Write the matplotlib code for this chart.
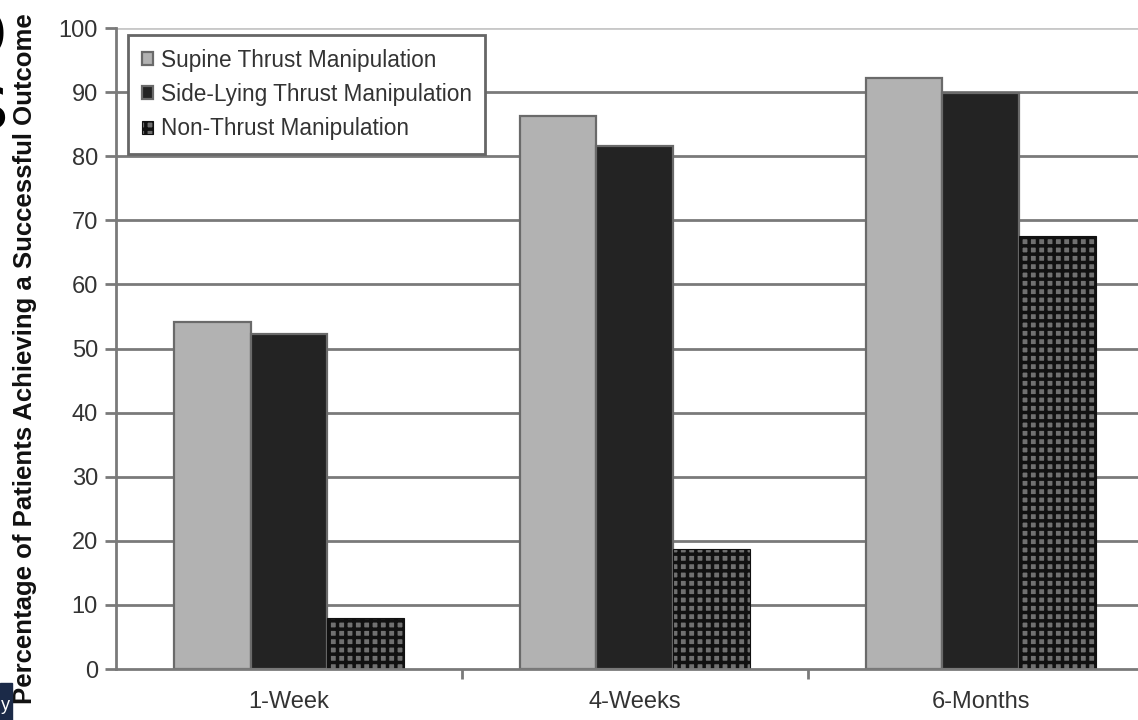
import matplotlib
matplotlib.use('Agg')
import numpy as np
from matplotlib import pyplot as plt
from matplotlib.patches import Rectangle

# values
categories = ['1-Week', '4-Weeks', '6-Months']
supine = [54.2, 86.3, 92.2]
side_lying = [52.3, 81.6, 89.9]
non_thrust = [7.9, 18.8, 67.6]
series_names = ['Supine Thrust Manipulation', 'Side-Lying Thrust Manipulation', 'Non-Thrust Manipulation']
y_ticks = list(range(0, 101, 10))
y_label = 'Percentage of Patients Achieving a Successful Outcome'

plt.rcParams['font.family'] = ['Liberation Sans', 'DejaVu Sans']
plt.rcParams['hatch.linewidth'] = 2.5

fig = plt.figure(figsize=(11.38, 7.2), dpi=100)
ax = fig.add_axes([0.1019, 0.0708, 0.912, 0.8903])

x = np.arange(len(categories))
width = 0.222
gridColor = '#7a7a7a'

for yv in y_ticks[1:]:
    ax.axhline(yv, color=gridColor if yv < 100 else '#c8c8c8', lw=2, zorder=0)

ax.bar(x - width, supine, width, color='#b2b2b2', edgecolor='#6a6a6a', lw=1.6,
       label=series_names[0], zorder=2)
ax.bar(x, side_lying, width, color='#232323', edgecolor='#6a6a6a', lw=1.6,
       label=series_names[1], zorder=2)
ax.bar(x + width, non_thrust, width, color='#707070', edgecolor='#111111', lw=0.8,
       hatch='++', label=series_names[2], zorder=2)

ax.set_xlim(-0.5, len(categories) - 0.5)
ax.set_ylim(0, 100)
ax.set_yticks(y_ticks)
ax.set_xticks(x, categories)
ax.set_xticks(x[:-1] + 0.5, minor=True)

for side in ['top', 'right']:
    ax.spines[side].set_visible(False)
for side in ['left', 'bottom']:
    ax.spines[side].set_color(gridColor)
    ax.spines[side].set_linewidth(2)

ax.tick_params(axis='y', length=8, width=2, color=gridColor, pad=5, labelsize=17, labelcolor='#333333')
ax.tick_params(axis='x', which='major', length=0, pad=16, labelsize=17, labelcolor='#333333')
ax.tick_params(axis='x', which='minor', length=7, width=2, color=gridColor)

ax.set_ylabel(y_label, fontsize=18.5, fontweight='bold', color='#111111')
ax.yaxis.set_label_coords(-0.076, 0.485)

leg = ax.legend(loc='upper left', bbox_to_anchor=(0.0116, 0.989), borderaxespad=0,
                fancybox=False, framealpha=1, edgecolor='#666666', fontsize=16.3,
                handlelength=0.5, handleheight=0.5, handletextpad=0.35,
                labelspacing=0.5, borderpad=0.6)
leg.get_frame().set_linewidth(2)
for txt in leg.get_texts():
    txt.set_color('#333333')

# cropped pieces of the surrounding slide
fig.text(-0.016, 0.955, 'o', fontsize=60, color='black', ha='center', va='center', family='DejaVu Sans')
fig.text(-0.01, 0.85, 's', fontsize=55, color='black', ha='center', va='center', family='DejaVu Sans')
fig.patches.append(Rectangle((0, 0), 0.0105, 0.052, transform=fig.transFigure,
                             color='#1b2a48', zorder=5))
fig.text(0.001, 0.02, 'y', fontsize=13, color='white', ha='left', va='center', zorder=6)

fig.savefig('out.png', dpi=100)
